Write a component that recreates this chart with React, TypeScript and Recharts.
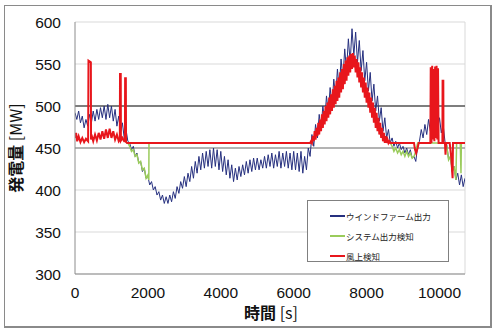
import { LineChart, Line, XAxis, YAxis, CartesianGrid, ReferenceLine, Legend } from 'recharts';

// wind farm output, one value every 50 s from t = 0
const BLUE_STEP = 50;
const blueValues = [
  492, 484, 494, 480, 488, 474, 484, 476, 490, 480, 494, 482, 496, 484, 498, 486, 500, 484, 502, 486,
  500, 482, 496, 476, 488, 468, 480, 462, 472, 458, 456, 448, 452, 440, 444, 432, 434, 422, 426, 414,
  416, 406, 410, 400, 404, 394, 398, 388, 394, 384, 392, 384, 394, 386, 398, 390, 404, 396, 410, 402,
  416, 404, 420, 410, 428, 414, 434, 420, 440, 424, 444, 426, 446, 428, 448, 426, 450, 428, 448, 424,
  446, 422, 440, 418, 436, 414, 430, 410, 426, 412, 428, 416, 430, 418, 434, 420, 436, 422, 438, 424,
  438, 424, 436, 426, 440, 426, 442, 428, 444, 426, 442, 428, 446, 426, 444, 428, 446, 426, 444, 424,
  446, 424, 444, 422, 446, 420, 440, 424, 450, 440, 466, 452, 478, 462, 490, 472, 500, 482, 512, 492,
  522, 500, 532, 510, 544, 520, 556, 532, 568, 542, 580, 552, 592, 560, 588, 552, 578, 542, 566, 530,
  552, 518, 540, 506, 526, 494, 512, 482, 498, 470, 486, 462, 472, 456, 462, 452, 458, 450, 456, 448,
  452, 444, 450, 442, 448, 438, 440, 434, 452, 458, 472, 462, 478, 466, 484, 470, 488, 472, 490, 474,
  486, 468, 478, 458, 454, 436, 440, 422, 428, 412, 420, 406, 418, 404, 414,
];

// system output detection [time s, MW]; null = not shown
const greenPoints: [number, number | null][] = [
  [1400, 456], [1450, 456], [1500, 452], [1550, 446], [1600, 448], [1650, 440], [1700, 442],
  [1750, 432], [1800, 434], [1850, 424], [1900, 426], [1950, 414], [2000, 418], [2025, 412],
  [2030, 456], [6450, 456], [6460, null], [8640, null], [8650, 456], [8700, 452], [8750, 446],
  [8800, 450], [8850, 444], [8900, 448], [8950, 442], [9000, 446], [9050, 440], [9100, 446],
  [9150, 440], [9200, 444], [9250, 438], [9300, 440], [9350, 446], [9400, 456], [10150, 456],
  [10200, 452], [10250, 436], [10300, 440], [10350, 422], [10400, 428], [10450, 412], [10470, 456],
  [10570, 456], [10590, 420], [10600, 456], [10700, 456],
];

// upwind detection [time s, MW]
const redPoints: [number, number][] = [
  [0, 462], [30, 468], [60, 458], [100, 464], [150, 457], [200, 462], [250, 457], [300, 461],
  [360, 458], [370, 554], [435, 552], [440, 460], [450, 466], [500, 458], [550, 466], [600, 459],
  [650, 468], [700, 460], [750, 470], [800, 461], [850, 472], [900, 462], [950, 473], [1000, 462],
  [1050, 470], [1100, 460], [1150, 466], [1200, 458], [1230, 460], [1235, 538], [1255, 538],
  [1260, 459], [1300, 462], [1350, 458], [1370, 458], [1375, 533], [1395, 533], [1400, 457],
  [1430, 456],
  [6450, 456], [6475, 458], [6500, 456], [6525, 464], [6550, 458], [6575, 470], [6600, 460],
  [6625, 474], [6650, 464], [6675, 480], [6700, 466], [6725, 484], [6750, 470], [6775, 490],
  [6800, 474], [6825, 494], [6850, 478], [6875, 500], [6900, 482], [6925, 504], [6950, 486],
  [6975, 510], [7000, 490], [7025, 514], [7050, 494], [7075, 520], [7100, 498], [7125, 524],
  [7150, 502], [7175, 530], [7200, 506], [7225, 534], [7250, 510], [7275, 540], [7300, 516],
  [7325, 544], [7350, 520], [7375, 550], [7400, 526], [7425, 554], [7450, 530], [7475, 558],
  [7500, 536], [7525, 560], [7550, 540], [7575, 562], [7600, 544], [7625, 563], [7650, 546],
  [7675, 560], [7700, 540], [7725, 556], [7750, 534], [7775, 552], [7800, 528], [7825, 546],
  [7850, 522], [7875, 540], [7900, 516], [7925, 534], [7950, 510], [7975, 528], [8000, 504],
  [8025, 522], [8050, 498], [8075, 516], [8100, 492], [8125, 510], [8150, 486], [8175, 504],
  [8200, 480], [8225, 498], [8250, 474], [8275, 492], [8300, 470], [8325, 486], [8350, 466],
  [8375, 480], [8400, 462], [8425, 474], [8450, 458], [8475, 468], [8500, 456], [8525, 464],
  [8550, 456], [8575, 460], [8600, 456], [8625, 458], [8650, 456],
  [9300, 456], [9330, 448], [9360, 444], [9400, 450], [9430, 456],
  [9750, 456], [9760, 546], [9780, 456], [9800, 548], [9820, 460], [9840, 544], [9860, 458],
  [9880, 547], [9900, 462], [9920, 548], [9940, 460], [9960, 545], [9975, 456],
  [10080, 456], [10085, 530], [10105, 530], [10110, 456], [10150, 456], [10165, 442], [10180, 456],
  [10280, 456], [10300, 448], [10330, 436], [10350, 420], [10360, 414], [10370, 456], [10700, 456],
];

const yTicks = [300, 350, 400, 450, 500, 550, 600];
const xTicks = [0, 2000, 4000, 6000, 8000, 10000];

const legendItems = [
  { name: 'ウインドファーム出力', color: '#26307f' },
  { name: 'システム出力検知', color: '#9acb5b' },
  { name: '風上検知', color: '#e8161c' },
];

const blueData = blueValues.map((v, i) => ({ t: i * BLUE_STEP, v }));
const greenData = greenPoints.map(([t, v]) => ({ t, v }));
const redData = redPoints.map(([t, v]) => ({ t, v }));

const tickStyle = { fontSize: 15.5, fill: '#111', fontFamily: '"Liberation Sans", Arial, sans-serif' };
const jpFont = '"Noto Sans CJK JP", sans-serif';

const LegendBox = () => (
  <div style={{ border: '1px solid #808080', background: '#fff', width: 142, height: 62, boxSizing: 'border-box', paddingTop: 5 }}>
    {legendItems.map((item) => (
      <div key={item.name} style={{ display: 'flex', alignItems: 'center', height: 20, paddingLeft: 22 }}>
        <span style={{ display: 'inline-block', width: 15, height: 1.5, background: item.color }} />
        <span style={{ fontFamily: jpFont, fontSize: 8.5, color: '#222', marginLeft: 1 }}>{item.name}</span>
      </div>
    ))}
  </div>
);

export default function App() {
  return (
    <div style={{ position: 'absolute', left: 0, top: 0, width: 499, height: 334, background: '#fff' }}>
      <div style={{ position: 'absolute', left: 4, top: 5, width: 488, height: 323, border: '1px solid #8a8a8a', borderRightWidth: 2, borderBottomWidth: 2, boxSizing: 'border-box' }} />
      <LineChart width={499} height={334} margin={{ top: 22, right: 34, left: 0, bottom: 0 }} style={{ position: 'absolute', left: 0, top: 0 }}>
        <CartesianGrid horizontal vertical={false} stroke="#d9d9d9" />
        <XAxis
          dataKey="t"
          type="number"
          domain={[0, 10700]}
          ticks={xTicks}
          allowDataOverflow
          height={60}
          tickLine={false}
          tickMargin={7}
          stroke="#8c8c8c"
          tick={tickStyle}
          label={{
            content: () => (
              <text x={271} y={319} textAnchor="middle" fontFamily={jpFont} fontSize={16} fill="#111">
                <tspan fontWeight="bold">時間</tspan>
                <tspan> [s]</tspan>
              </text>
            ),
          }}
        />
        <YAxis
          type="number"
          domain={[300, 600]}
          ticks={yTicks}
          width={75}
          tickLine={false}
          tickMargin={8}
          stroke="#8c8c8c"
          tick={tickStyle}
          label={{
            content: () => (
              <text x={22} y={148} transform="rotate(-90 22 148)" textAnchor="middle" fontFamily={jpFont} fontSize={16} fill="#111">
                <tspan fontWeight="bold">発電量</tspan>
                <tspan> [MW]</tspan>
              </text>
            ),
          }}
        />
        <ReferenceLine x={10700} stroke="#d9d9d9" />
        <ReferenceLine y={500} stroke="#111" strokeWidth={1.2} />
        <ReferenceLine y={450} stroke="#7a7a7a" strokeWidth={1.2} />
        <Line data={blueData} dataKey="v" type="linear" stroke="#26307f" strokeWidth={1} dot={false} isAnimationActive={false} />
        <Line data={greenData} dataKey="v" type="linear" stroke="#9acb5b" strokeWidth={1.5} dot={false} isAnimationActive={false} />
        <Line data={redData} dataKey="v" type="linear" stroke="#e8161c" strokeWidth={2} dot={false} isAnimationActive={false} />
        <Legend
          layout="horizontal"
          verticalAlign="middle"
          align="center"
          wrapperStyle={{ left: 307, top: 200, width: 142, height: 62 }}
          content={() => <LegendBox />}
        />
      </LineChart>
    </div>
  );
}
